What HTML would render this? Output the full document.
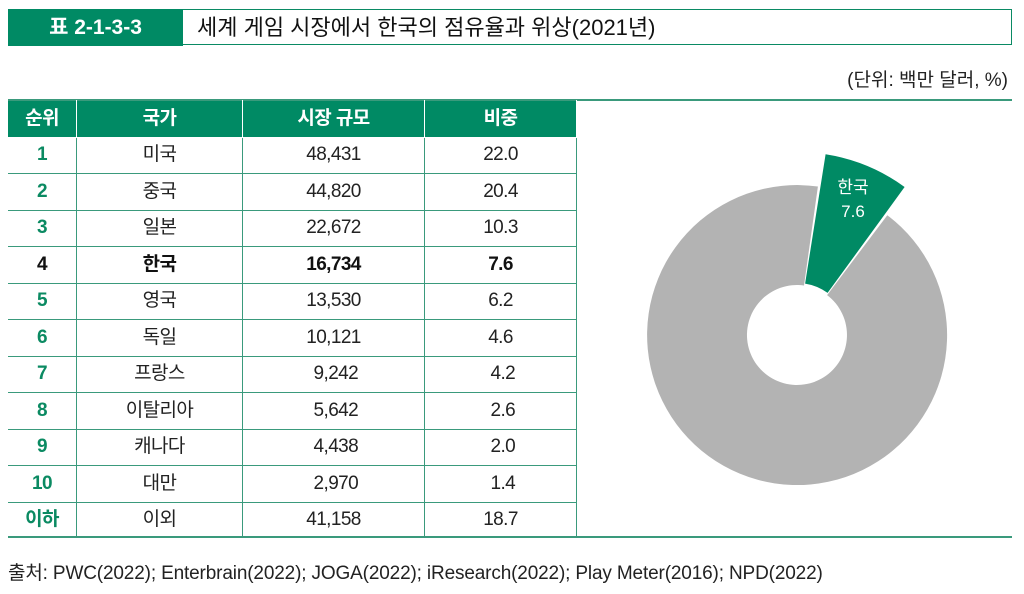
<!DOCTYPE html>
<html><head><meta charset="utf-8"><style>
body{margin:0;width:1024px;height:594px;background:#fff;position:relative;overflow:hidden;font-family:"Liberation Sans","Noto Sans CJK KR",sans-serif;color:#222}
.a{position:absolute}
table{position:absolute;left:8px;top:100px;border-collapse:collapse;font-size:19px;table-layout:fixed}
td{height:35.5px;border:1.3px solid #3a9a7c;text-align:center;padding:0;letter-spacing:-0.6px;line-height:20px}
tr:first-child td{background:#008a64;color:#fff;font-weight:bold;border-color:#fff;border-top:1.5px solid #3a9a7c}
td:first-child{border-left:none;color:#0b8a62;font-weight:bold}
tr:first-child td:first-child{color:#fff}
tr:last-child td{border-bottom:none}
.b td{font-weight:bold;color:#111!important}
</style></head><body>
<div class="a" style="left:8px;top:9px;width:1002px;height:34px;border:1.5px solid #0a8a64"></div>
<div class="a" style="left:8px;top:9px;width:175px;height:37px;background:#008a64;color:#fff;font-size:21px;font-weight:bold;line-height:37px;text-align:center">표 2-1-3-3</div>
<div class="a" style="left:197px;top:9px;height:37px;line-height:37px;font-size:22px;color:#111">세계 게임 시장에서 한국의 점유율과 위상(2021년)</div>
<div class="a" style="right:16px;top:65px;font-size:19px;color:#222">(단위: 백만 달러, %)</div>
<div class="a" style="left:8px;top:99px;width:1004px;height:2px;background:#3a9a7c"></div>
<div class="a" style="left:8px;top:536px;width:1004px;height:2px;background:#3a9a7c"></div>
<table>
<tr><td style="width:68px">순위</td><td style="width:165px">국가</td><td style="width:181px">시장 규모</td><td style="width:151px">비중</td></tr>
<tr><td>1</td><td>미국</td><td>48,431</td><td>22.0</td></tr>
<tr><td>2</td><td>중국</td><td>44,820</td><td>20.4</td></tr>
<tr><td>3</td><td>일본</td><td>22,672</td><td>10.3</td></tr>
<tr class="b"><td>4</td><td>한국</td><td>16,734</td><td>7.6</td></tr>
<tr><td>5</td><td>영국</td><td>13,530</td><td>6.2</td></tr>
<tr><td>6</td><td>독일</td><td>10,121</td><td>4.6</td></tr>
<tr><td>7</td><td>프랑스</td><td>&nbsp;9,242</td><td>&nbsp;4.2</td></tr>
<tr><td>8</td><td>이탈리아</td><td>&nbsp;5,642</td><td>&nbsp;2.6</td></tr>
<tr><td>9</td><td>캐나다</td><td>&nbsp;4,438</td><td>&nbsp;2.0</td></tr>
<tr><td>10</td><td>대만</td><td>&nbsp;2,970</td><td>&nbsp;1.4</td></tr>
<tr><td>이하</td><td>이외</td><td>41,158</td><td>18.7</td></tr>
</table>
<svg class="a" style="left:0;top:0" width="1024" height="594">
<path d="M887.3,215.2 A150,150 0 1 1 817.9,186.5 L804.0,285.5 A50,50 0 1 0 827.1,295.1 Z" fill="#b3b3b3"/>
<path d="M825.6,154.3 A183,183 0 0 1 904.6,187.0 L827.6,292.9 A52,52 0 0 0 805.1,283.6 Z" fill="#008a64"/>
<text x="853" y="193" fill="#fff" font-size="17" text-anchor="middle" font-family="Liberation Sans,Noto Sans CJK KR,sans-serif">한국</text>
<text x="853" y="217" fill="#fff" font-size="17" text-anchor="middle" font-family="Liberation Sans,sans-serif">7.6</text>
</svg>
<div class="a" style="left:8px;top:558px;font-size:19px;color:#222;letter-spacing:-0.15px">출처: PWC(2022); Enterbrain(2022); JOGA(2022); iResearch(2022); Play Meter(2016); NPD(2022)</div>
</body></html>
